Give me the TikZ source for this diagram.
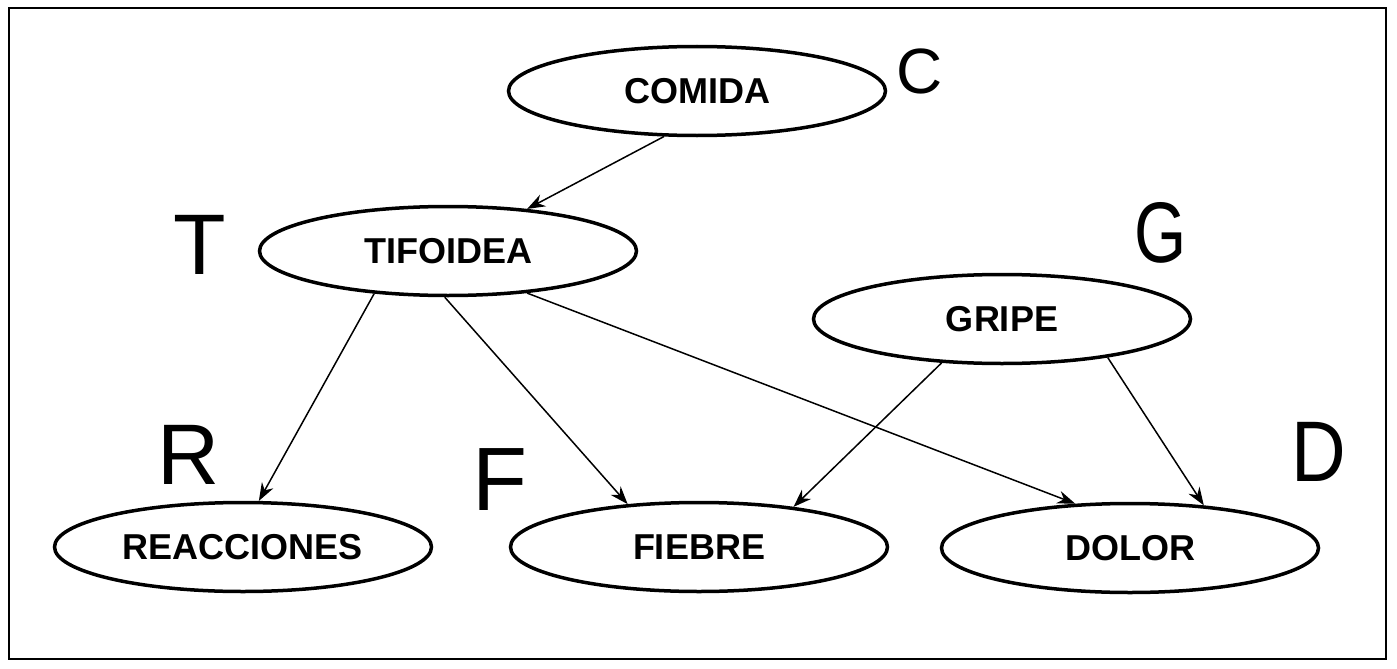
\documentclass[tikz,border=0pt]{standalone}
\usepackage{fontspec}
\setmainfont{Liberation Sans}
\newfontfamily\letraG[FakeStretch=0.78]{Liberation Sans}
\newfontfamily\letraD[FakeStretch=0.88]{Liberation Sans}
\usepackage{tikz}
\usetikzlibrary{shapes.geometric}
\usetikzlibrary{arrows.meta}

\begin{document}
\begin{tikzpicture}[x=1pt, y=-1pt,
        nodo/.style={draw, ellipse, line width=3.5pt, minimum width=377pt, minimum height=89pt, inner sep=0pt, font=\bfseries\fontsize{36}{36}\selectfont},
        letra/.style={inner sep=0pt, font=\fontsize{86}{86}\selectfont},
        flecha/.style={-{Stealth[length=18pt, width=13pt]}, line width=1.5pt}]
        \useasboundingbox (0,0) rectangle (1397,669);
        \draw[line width=2pt] (9,8) rectangle (1386,659);
        % nodos
        \node[nodo] (comida) at (697,91) {COMIDA};
        \node[nodo] (tifoidea) at (448,251) {TIFOIDEA};
        \node[nodo] (gripe) at (1002,319) {GRIPE};
        \node[nodo] (reacciones) at (243,547) {REACCIONES};
        \node[nodo] (fiebre) at (699,547) {FIEBRE};
        \node[nodo] (dolor) at (1130,548) {DOLOR};
        % letras
        \node[letra, font=\fontsize{64}{64}\selectfont] (lc) at (920,71) {C};
        \node[letra] (lt) at (200,245) {T};
        \node[letra, font=\letraG\fontsize{86}{86}\selectfont] (lg) at (1161,233) {G};
        \node[letra] (lr) at (189,455) {R};
        \node[letra, font=\fontsize{90}{90}\selectfont] (lf) at (500,480) {F};
        \node[letra, font=\letraD\fontsize{86}{86}\selectfont] (ld) at (1319,452) {D};
        % arcos
        \draw[flecha] (comida.-126) -- (tifoidea.28);
        \draw[flecha] (tifoidea.-150) -- (reacciones.71);
        \draw[flecha] (tifoidea.-94) -- (fiebre.149);
        \draw[flecha] (tifoidea.-28) -- (dolor.141);
        \draw[flecha] (gripe.-144) -- (fiebre.23);
        \draw[flecha] (gripe.-20) -- (dolor.30);
    \end{tikzpicture}
\end{document}
